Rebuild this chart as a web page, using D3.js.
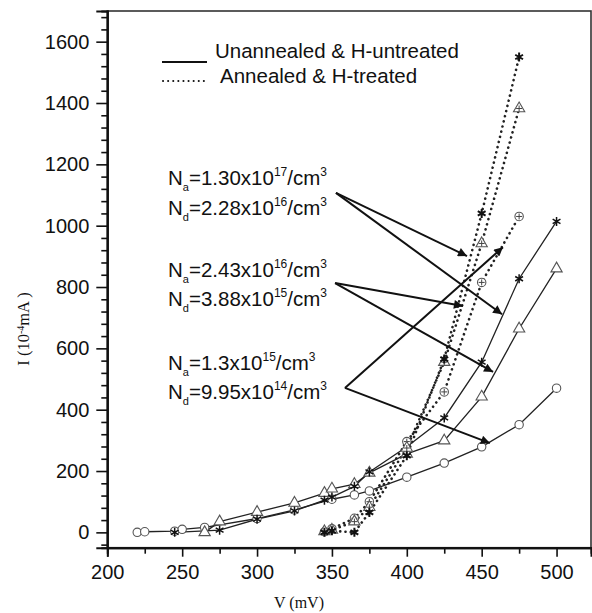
<!DOCTYPE html>
<html>
<head>
<meta charset="utf-8">
<script src="https://cdn.jsdelivr.net/npm/d3@7/dist/d3.min.js"></script>
<style>
  body { margin: 0; background: #fff; }
  svg { display: block; }
  text { font-family: "Liberation Sans", Arial, sans-serif; fill: #111; }
</style>
</head>
<body>
<div id="root"></div>
<script>
// ---- data (V in mV, I in 1e-4 mA) ----
const xTicks = [200, 250, 300, 350, 400, 450, 500];
const yTicks = [0, 200, 400, 600, 800, 1000, 1200, 1400, 1600];

// unannealed & H-untreated (solid)
const solidStar = [[245, 0], [275, 7], [300, 43], [325, 70], [345, 105], [350, 115], [365, 150], [375, 197], [400, 279], [425, 373], [450, 555], [475, 827], [500, 1014]];
const solidTri = [[265, 0], [275, 35], [300, 66], [325, 96], [345, 128], [350, 142], [365, 157], [375, 194], [400, 256], [425, 299], [450, 442], [475, 664], [500, 860]];
const solidCirc = [[220, 0], [225, 2], [245, 4], [250, 10], [265, 16], [300, 45], [325, 73], [350, 108], [365, 122], [375, 135], [400, 180], [425, 226], [450, 279], [475, 351], [500, 470]];

// annealed & H-treated (dotted)
const dotStar = [[345, 0], [350, 5], [365, 0], [375, 65], [400, 250], [425, 565], [450, 1040], [475, 1550]];
const dotTri = [[345, 3], [350, 8], [365, 35], [375, 82], [400, 275], [425, 555], [450, 942], [475, 1382]];
const dotCirc = [[345, 2], [350, 12], [365, 46], [375, 100], [400, 296], [425, 458], [450, 815], [475, 1030]];

const legendLabels = ["Unannealed & H-untreated", "Annealed & H-treated"];

// annotation groups: [Na mantissa, Na exp, Nd mantissa, Nd exp]
const dopings = [
  ["1.30", "17", "2.28", "16"],
  ["2.43", "16", "3.88", "15"],
  ["1.3", "15", "9.95", "14"]
];
// arrows, from label to curve, in (V, I)
const arrowFrom = [[352.7, 1107], [352.1, 813], [358.7, 471]];
const arrowTo = [
  [[440.2, 901], [463.6, 711]],
  [[437.5, 738], [457.6, 523]],
  [[464.2, 930], [455.5, 291]]
];

// ---- layout ----
const W = 592, H = 613;
const margin = { left: 107.3, top: 11, right: 1, bottom: 65.3 };

const svg = d3.select("#root").append("svg")
  .attr("width", W).attr("height", H);

const x = d3.scaleLinear().domain([200, 523]).range([margin.left, W - margin.right]);
const y = d3.scaleLinear().domain([-50, 1700]).range([H - margin.bottom, margin.top]);

const defs = svg.append("defs");
defs.append("marker")
  .attr("id", "head")
  .attr("viewBox", "0 0 10 10")
  .attr("refX", 10).attr("refY", 5)
  .attr("markerWidth", 5.5).attr("markerHeight", 4.5)
  .attr("markerUnits", "strokeWidth")
  .attr("orient", "auto")
  .append("path").attr("d", "M0,0 L10,5 L0,10 Z").attr("fill", "#111");

// frame
svg.append("rect")
  .attr("x", x(200)).attr("y", y(1700))
  .attr("width", x(523) - x(200)).attr("height", y(-50) - y(1700))
  .attr("fill", "none").attr("stroke", "#333").attr("stroke-width", 1.6);

// x axis
const xAxis = svg.append("g").attr("transform", `translate(0,${y(-50)})`);
xAxis.call(d3.axisBottom(x).tickValues(d3.range(225, 523, 50)).tickSize(6).tickFormat(""));
xAxis.call(g => g.append("g").call(d3.axisBottom(x).tickValues(xTicks).tickSize(9).tickPadding(8).tickFormat(d3.format("d"))));
xAxis.selectAll(".domain").attr("stroke", "#111").attr("stroke-width", 2);
xAxis.selectAll(".tick line").attr("stroke", "#111").attr("stroke-width", 1.6);
xAxis.selectAll("text").style("font-size", "20px").attr("fill", "#111").style("font-family", "Liberation Sans, Arial, sans-serif");

// y axis
const yAxis = svg.append("g").attr("transform", `translate(${x(200)},0)`);
yAxis.call(d3.axisLeft(y).tickValues(d3.range(-40, 1700, 40).filter(v => v % 200 !== 0)).tickSize(6).tickFormat(""));
yAxis.call(g => g.append("g").call(d3.axisLeft(y).tickValues(yTicks).tickSize(11).tickPadding(7).tickFormat(d3.format("d"))));
yAxis.selectAll(".domain").attr("stroke", "#111").attr("stroke-width", 2);
yAxis.selectAll(".tick line").attr("stroke", "#111").attr("stroke-width", 1.6);
yAxis.selectAll("text").style("font-size", "20px").attr("fill", "#111").style("font-family", "Liberation Sans, Arial, sans-serif");

// axis titles
svg.append("text")
  .attr("x", 299).attr("y", 608)
  .attr("text-anchor", "middle")
  .style("font-family", "Liberation Serif, Times New Roman, serif")
  .style("font-size", "16px")
  .text("V (mV)");

const yt = svg.append("text")
  .attr("transform", "translate(29,329) rotate(-90)")
  .attr("text-anchor", "middle")
  .style("font-family", "Liberation Serif, Times New Roman, serif")
  .style("font-size", "16.5px");
yt.append("tspan").text("I (10");
yt.append("tspan").attr("baseline-shift", "super").style("font-size", "10px").text("-4");
yt.append("tspan").text("mA )");

// lines
const line = d3.line().x(d => x(d[0])).y(d => y(d[1]));

[solidStar, solidTri, solidCirc].forEach(s => {
  svg.append("path").datum(s)
    .attr("d", line).attr("fill", "none")
    .attr("stroke", "#222").attr("stroke-width", 1.3);
});
[dotStar, dotTri, dotCirc].forEach(s => {
  svg.append("path").datum(s)
    .attr("d", line).attr("fill", "none")
    .attr("stroke", "#222").attr("stroke-width", 2.6)
    .attr("stroke-linecap", "round")
    .attr("stroke-dasharray", "0.1 5.2");
});

// point markers
const star = "M0,-4.5L0,4.5M-3.9,-2.25L3.9,2.25M-3.9,2.25L3.9,-2.25";
const tri = d3.symbol(d3.symbolTriangle, 55)();
const plus = "M-3,0L3,0M0,-3L0,3";

function drawPoints(data, kind, crossed) {
  const g = svg.append("g").selectAll("g").data(data).join("g")
    .attr("transform", d => `translate(${x(d[0])},${y(d[1])})`);
  if (kind === "star") {
    g.append("path").attr("d", star).attr("stroke", "#111").attr("stroke-width", crossed ? 2 : 1.5);
  } else if (kind === "tri") {
    g.append("path").attr("d", tri).attr("fill", "#fff").attr("stroke", "#555").attr("stroke-width", 1.1);
  } else {
    g.append("circle").attr("r", 4.2).attr("fill", "#fff").attr("stroke", "#555").attr("stroke-width", 1.1);
  }
  if (crossed && kind !== "star") {
    g.append("path").attr("d", plus).attr("stroke", "#444").attr("stroke-width", 1);
  }
}
drawPoints(solidCirc, "circ", false);
drawPoints(solidTri, "tri", false);
drawPoints(solidStar, "star", false);
drawPoints(dotCirc, "circ", true);
drawPoints(dotTri, "tri", true);
drawPoints(dotStar, "star", true);

// legend
svg.append("line").attr("x1", 162).attr("x2", 207).attr("y1", 62).attr("y2", 62)
  .attr("stroke", "#111").attr("stroke-width", 2.2);
svg.append("line").attr("x1", 163).attr("x2", 207).attr("y1", 81).attr("y2", 81)
  .attr("stroke", "#111").attr("stroke-width", 2).attr("stroke-linecap", "round")
  .attr("stroke-dasharray", "0.1 5");
svg.append("text").attr("x", 215).attr("y", 58).style("font-size", "20.5px").text(legendLabels[0]);
svg.append("text").attr("x", 220).attr("y", 83).style("font-size", "20.5px").text(legendLabels[1]);

// doping labels
const labelY = [[185, 215], [277, 306], [370, 399]];
dopings.forEach((d, i) => {
  [["a", d[0], d[1]], ["d", d[2], d[3]]].forEach((r, j) => {
    const t = svg.append("text").attr("x", 168).attr("y", labelY[i][j]).style("font-size", "20.5px");
    t.append("tspan").text("N");
    t.append("tspan").attr("dy", 6).style("font-size", "11px").text(r[0]);
    t.append("tspan").attr("dy", -6).text("=" + r[1] + "x10");
    t.append("tspan").attr("dy", -9).style("font-size", "12px").text(r[2]);
    t.append("tspan").attr("dy", 9).text("/cm");
    t.append("tspan").attr("dy", -9).style("font-size", "12px").text("3");
  });
});

// arrows
arrowFrom.forEach((f, i) => {
  arrowTo[i].forEach(t => {
    svg.append("line")
      .attr("x1", x(f[0])).attr("y1", y(f[1]))
      .attr("x2", x(t[0])).attr("y2", y(t[1]))
      .attr("stroke", "#111").attr("stroke-width", 2)
      .attr("marker-end", "url(#head)");
  });
});
</script>
</body>
</html>
